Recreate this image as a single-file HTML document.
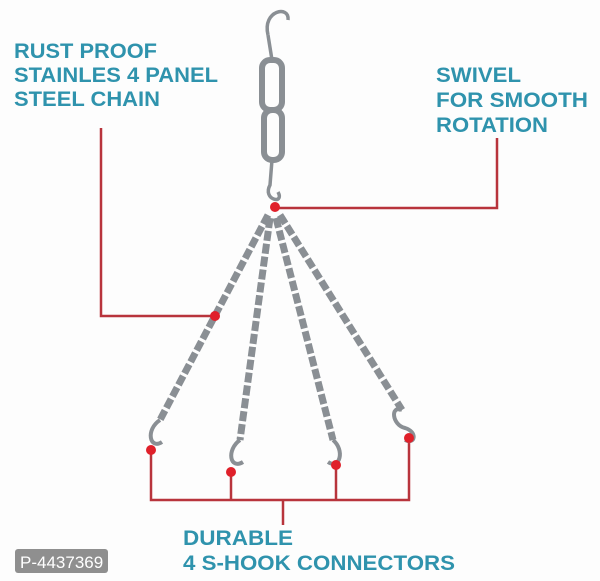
<!DOCTYPE html><html><head><style>body{margin:0;background:#fff}svg{display:block}</style></head><body>
<svg width="600" height="581" viewBox="0 0 600 581" xmlns="http://www.w3.org/2000/svg">
<rect width="600" height="581" fill="#fdfdfd"/>
<g font-family="Liberation Sans, sans-serif" font-weight="bold" font-size="21" fill="#2f93ad" lengthAdjust="spacingAndGlyphs">
<text x="14" y="58" textLength="143" lengthAdjust="spacingAndGlyphs">RUST PROOF</text>
<text x="14" y="82" textLength="204" lengthAdjust="spacingAndGlyphs">STAINLES 4 PANEL</text>
<text x="14" y="106" textLength="146" lengthAdjust="spacingAndGlyphs">STEEL CHAIN</text>
<text x="436" y="82" textLength="85" lengthAdjust="spacingAndGlyphs">SWIVEL</text>
<text x="436" y="107" textLength="152" lengthAdjust="spacingAndGlyphs">FOR SMOOTH</text>
<text x="436" y="132" textLength="112" lengthAdjust="spacingAndGlyphs">ROTATION</text>
<text x="183" y="545" textLength="110" lengthAdjust="spacingAndGlyphs">DURABLE</text>
<text x="183" y="570" textLength="272" lengthAdjust="spacingAndGlyphs">4 S-HOOK CONNECTORS</text>
</g>
<g stroke="#b8343c" stroke-width="2.5" fill="none">
<polyline points="101,128 101,316 215,316"/>
<polyline points="497,138 497,208 275,208"/>
<polyline points="151,450 151,500 409,500 409,438"/>
<line x1="231" y1="472" x2="231" y2="500"/><line x1="336" y1="465" x2="336" y2="500"/>
<line x1="283" y1="500" x2="283" y2="525"/>
</g>
<g stroke="#8a8f94" fill="none">
<path d="M268 35 C262 10 290 5 288 20" stroke-width="3.5"/>
<path d="M268 35 L272 60" stroke-width="3.5"/>
<rect x="262" y="60" width="20" height="50" rx="8" stroke-width="6"/>
<rect x="264" y="110" width="18" height="50" rx="8" stroke-width="6"/>
<path d="M272 160 L270 185 C262 200 285 205 278 192" stroke-width="3.5"/>
<g stroke-width="7" stroke-dasharray="10 3">
<line x1="268" y1="215" x2="160" y2="420"/>
<line x1="270" y1="218" x2="240" y2="440"/>
<line x1="276" y1="218" x2="333" y2="440"/>
<line x1="280" y1="215" x2="402" y2="410"/>
</g>
<g stroke-width="4">
<path d="M160 420 C145 430 150 450 162 442"/>
<path d="M240 440 C226 450 230 470 243 462"/>
<path d="M333 440 C345 450 340 470 328 462"/>
<path d="M402 410 C390 405 392 425 405 428 C418 432 415 445 405 440"/>
</g>
</g>
<g fill="#e0202a">
<circle cx="275" cy="207" r="5"/><circle cx="215" cy="316" r="5"/>
<circle cx="151" cy="450" r="5"/><circle cx="231" cy="472" r="5"/>
<circle cx="336" cy="465" r="5"/><circle cx="409" cy="438" r="5"/>
</g>
<rect x="15" y="549" width="93" height="24" rx="3" fill="#8f8f8f"/>
<text x="20" y="568" font-family="Liberation Sans, sans-serif" font-size="17" fill="#fff">P-4437369</text>
</svg>
</body></html>
